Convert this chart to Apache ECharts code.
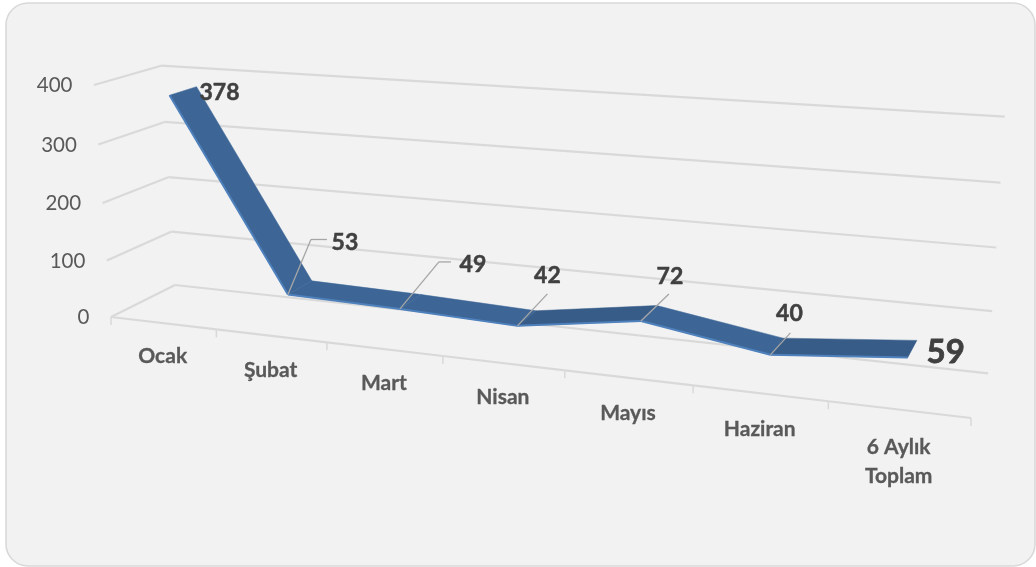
<!DOCTYPE html>
<html><head><meta charset="utf-8">
<style>html,body{margin:0;padding:0;background:#fff}#c{width:1036px;height:567px}</style>
<script src="https://cdn.jsdelivr.net/npm/echarts@6/dist/echarts.min.js"></script>
</head><body><div id="c"></div>
<script>
const categories = ['Ocak','Şubat','Mart','Nisan','Mayıs','Haziran','6 Aylık\nToplam'];
const values = [378,53,49,42,72,40,59];
const valueTicks = [0,100,200,300,400];
const valueMax = 400;

// Perspective box of the 3D plot: origin, ends of the u/h/d edges and projective weights
const O=[111,317], U=[971,418], H=[94,85], D=[175,285];
const cu=-0.162, ch=-0.035, cd=0.061;
function proj(u,h,d){
  const w=1+cu*u+ch*h+cd*d;
  const f=k=>(O[k]+u*((1+cu)*U[k]-O[k])+h*((1+ch)*H[k]-O[k])+d*((1+cd)*D[k]-O[k]))/w;
  return [f(0),f(1)];
}
const FRONT=0.31, BACK=0.73;
// data -> axis pixel -> normalised -> box projection
function P(api,params,x,y,d){
  const c=api.coord([x,y]), s=params.coordSys;
  return proj((c[0]-s.x)/s.width,(s.y+s.height-c[1])/s.height,d);
}
const FONT='Lato, Carlito, sans-serif';
const GRID='#D9D9D9';
const n=categories.length;
const line=(a,b,color,lw)=>({type:'line',silent:true,shape:{x1:a[0],y1:a[1],x2:b[0],y2:b[1]},style:{stroke:color,lineWidth:lw}});
const poly=(pts,fill)=>({type:'polygon',silent:true,shape:{points:pts},style:{fill,stroke:fill,lineWidth:0.5}});
const text=(x,y,t,size,weight,color,align,thick)=>({type:'text',silent:true,x,y,style:{text:t,fontFamily:FONT,fontSize:size,fontWeight:weight,fill:color,align:align||'center',verticalAlign:'middle',lineHeight:size*1.35,stroke:thick?color:null,lineWidth:thick||0}});

// Category label vertical offset below the axis, per category
const CAT_DY=[33,34,34,34,35,36,52];
// Label placement relative to the front edge of each point
const LABEL=[
 {t:[50,-3]},
 {t:[57,-52],l:[[23,-55],[39,-55]]},
 {t:[73,-44],l:[[39,-47],[51,-47]]},
 {t:[30,-50],l:[[30,-32]]},
 {t:[29,-44],l:[[28,-27]]},
 {t:[19,-41],l:[[20,-22]]},
 {t:[38,-5]}
];

const option={
 animation:false,
 backgroundColor:'#fff',
 graphic:[{type:'rect',z:-10,shape:{x:6,y:3,width:1029,height:563,r:22},style:{fill:'#F2F2F2',stroke:'#D9D9D9',lineWidth:1.6}}],
 grid:{left:100,top:60,width:800,height:400},
 xAxis:{type:'value',min:0,max:n,interval:1,show:false},
 yAxis:{type:'value',min:0,max:valueMax,interval:100,show:false},
 series:[
  {type:'custom',name:'grid',coordinateSystem:'cartesian2d',clip:false,z:1,
   data:valueTicks.map(v=>[0,v]),
   renderItem(params,api){
    const v=api.value(1);
    const a=P(api,params,0,v,0),b=P(api,params,0,v,1),c=P(api,params,n,v,1);
    return {type:'group',children:[line(a,b,GRID,2.2),line(b,c,GRID,2.2),
      text(a[0]-21.5,a[1]+0.5,String(v),20.5,'normal','#595959','right')]};
   }},
  {type:'custom',name:'axis',coordinateSystem:'cartesian2d',clip:false,z:1,
   data:categories.map((_,i)=>[i,0]),
   renderItem(params,api){
    const i=api.value(0);
    const a=P(api,params,i,0,0),b=P(api,params,i+1,0,0);
    const kids=[line(a,b,GRID,2.2),line(a,[a[0],a[1]+8],GRID,1.5)];
    if(i===n-1)kids.push(line(b,[b[0],b[1]+8],GRID,1.5));
    const m=[(a[0]+b[0])/2,(a[1]+b[1])/2];
    kids.push(text(m[0]-1,m[1]+CAT_DY[i],categories[i],21,'bold','#595959','center',0.3));
    return {type:'group',children:kids};
   }},
  {type:'custom',name:'Seri',coordinateSystem:'cartesian2d',clip:false,z:3,
   data:values.slice(0,-1).map((v,i)=>[i+0.5,v,i+1.5,values[i+1]]),
   renderItem(params,api){
    const x0=api.value(0),y0=api.value(1),x1=api.value(2),y1=api.value(3);
    const f0=P(api,params,x0,y0,FRONT),b0=P(api,params,x0,y0,BACK),f1=P(api,params,x1,y1,FRONT),b1=P(api,params,x1,y1,BACK);
    return {type:'group',children:[
      poly([f0,b0,b1,f1],y1>y0?'#375C88':'#3D6696'),
      line(f0,f1,'#4F81BD',2)
    ]};
   }},
  {type:'custom',name:'labels',coordinateSystem:'cartesian2d',clip:false,z:4,
   data:values.map((v,i)=>[i+0.5,v]),
   renderItem(params,api){
    const i=params.dataIndex,v=api.value(1),p=P(api,params,i+0.5,v,FRONT),L=LABEL[i];
    const kids=[];
    if(L.l){let a=p;L.l.forEach(o=>{const b=[p[0]+o[0],p[1]+o[1]];kids.push(line(a,b,'#A6A6A6',1.3));a=b;});}
    const big=i===n-1;
    kids.push(text(p[0]+L.t[0],p[1]+L.t[1],String(v),big?33:23,'bold','#404040','center',big?0.8:0.5));
    return {type:'group',children:kids};
   }}
 ]
};
echarts.init(document.getElementById('c')).setOption(option);
</script></body></html>
